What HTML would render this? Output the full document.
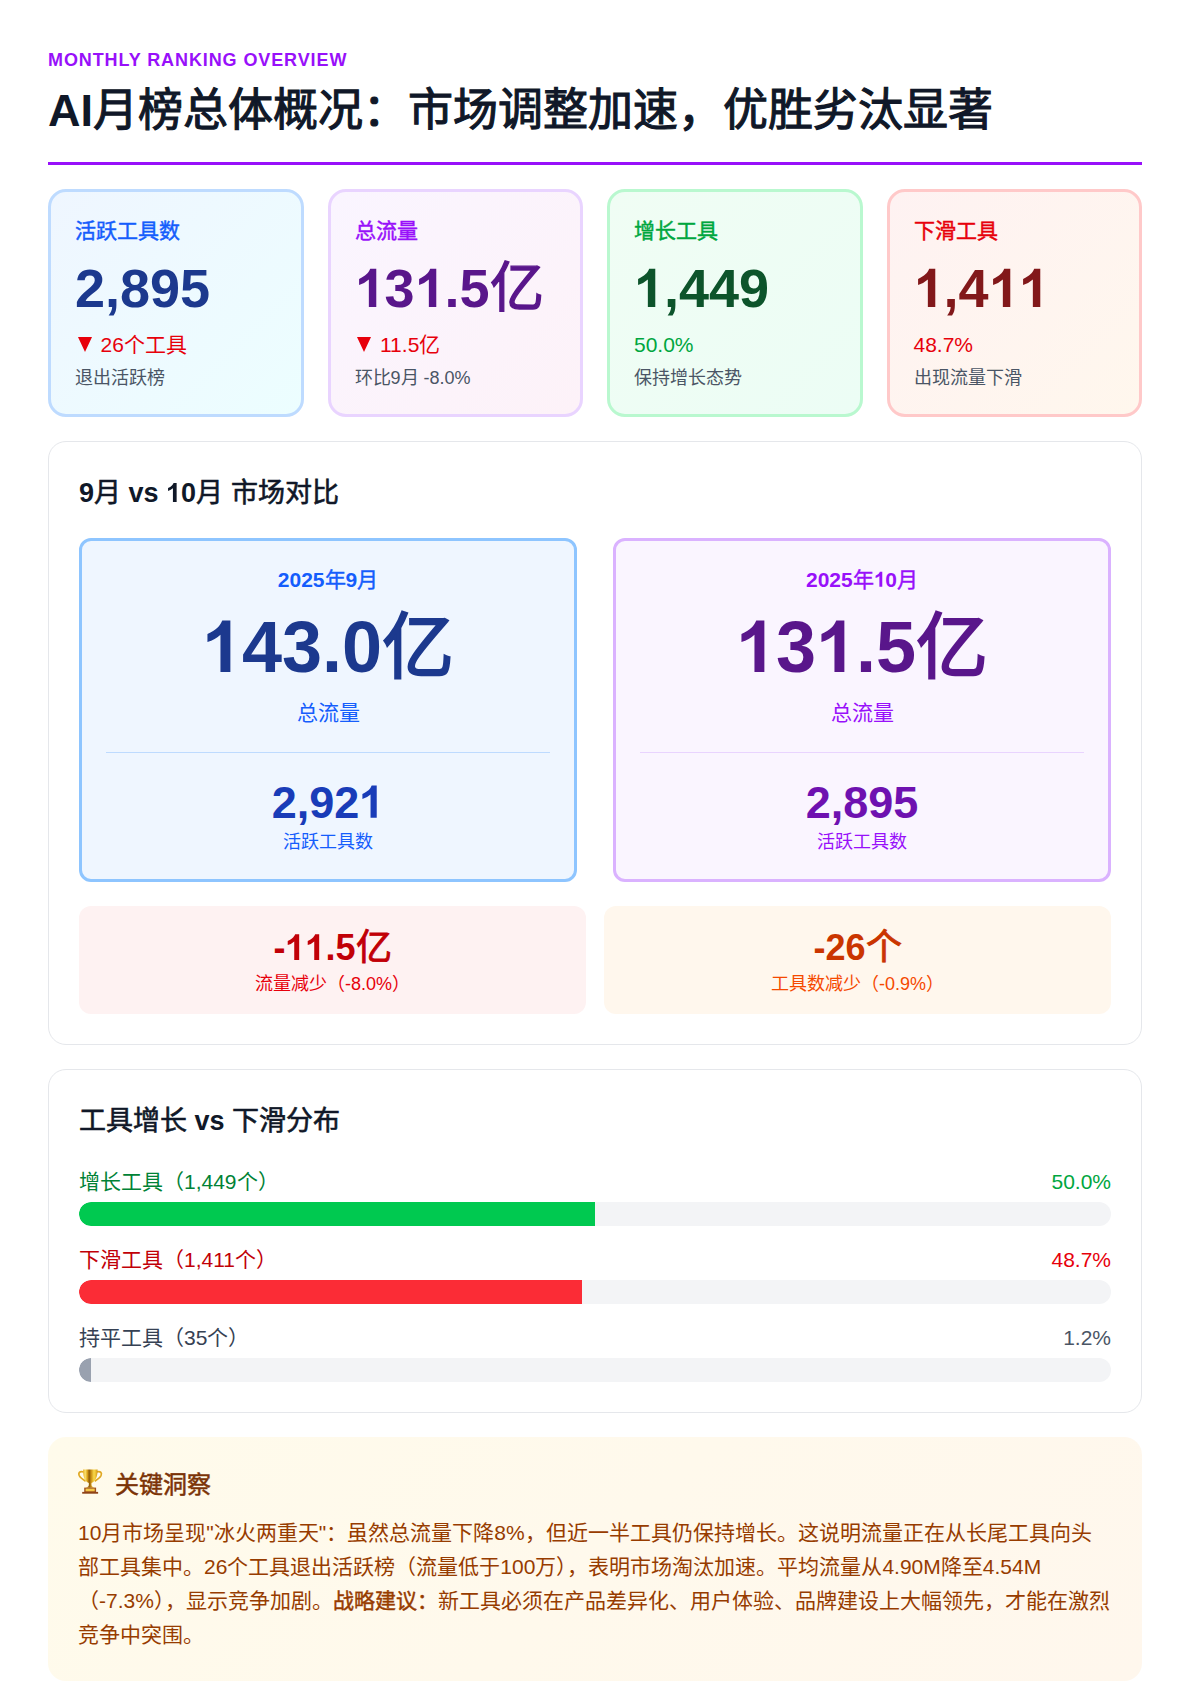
<!DOCTYPE html>
<html lang="zh-CN">
<head>
<meta charset="utf-8">
<style>
html{zoom:1.5;overflow:hidden;text-autospace:no-autospace;}
*{box-sizing:border-box;margin:0;padding:0;}
body{font-family:"Liberation Sans",sans-serif;background:#fff;color:#101828;width:792.667px;height:1122px;padding:32px 31.333px 32px 32px;overflow:hidden;line-height:1.5;}
.label{font-size:12px;line-height:16px;font-weight:700;letter-spacing:0.05em;text-transform:uppercase;color:#9810fa;}
h1{font-size:30px;line-height:36px;font-weight:700;color:#101828;margin-top:8px;}
.header{padding-bottom:16px;border-bottom:2px solid #9810fa;margin-bottom:16px;}
.cards{display:grid;grid-template-columns:repeat(4,1fr);gap:16px;margin-bottom:16px;}
.card{border:2px solid;border-radius:12px;padding:16px;}
.card .t{font-size:14px;line-height:20px;font-weight:700;}
.card .n{font-size:36px;line-height:40px;font-weight:700;margin-top:8px;}
.card .d{font-size:14px;line-height:20px;margin-top:8px;}
.card .s{font-size:12px;line-height:16px;color:#4a5565;margin-top:4px;}
.c1{background:linear-gradient(135deg,#eff6ff,#ecfeff);border-color:#bedbff;}
.c1 .t{color:#155dfc}.c1 .n{color:#1c398e}
.c2{background:linear-gradient(135deg,#faf5ff,#fdf2f8);border-color:#e9d4ff;}
.c2 .t{color:#9810fa}.c2 .n{color:#59168b}
.c3{background:linear-gradient(135deg,#f0fdf4,#ecfdf5);border-color:#b9f8cf;}
.c3 .t{color:#00a63e}.c3 .n{color:#0d542b}.c3 .d{color:#00a63e}
.c4{background:linear-gradient(135deg,#fef2f2,#fff7ed);border-color:#ffc9c9;}
.c4 .t{color:#e7000b}.c4 .n{color:#82181a}.c4 .d{color:#e7000b}
.f14,.f16,.f18,.f24,.f30,.f36,.f48{font-weight:400;-webkit-text-stroke-color:currentColor;}
.f14{-webkit-text-stroke-width:0.3px}.f16{-webkit-text-stroke-width:0.34px}.f18{-webkit-text-stroke-width:0.4px}
.f24{-webkit-text-stroke-width:0.6px}.f30{-webkit-text-stroke-width:0.75px}.f36{-webkit-text-stroke-width:0.9px}.f48{-webkit-text-stroke-width:1.3px}
.one{display:inline;width:0.55615em;height:0.75em;vertical-align:baseline;fill:currentColor;}
.red{color:#e7000b}
.tri{display:inline-block;width:0;height:0;border-left:4.667px solid transparent;border-right:4.667px solid transparent;border-top:10px solid #e7000b;margin-left:1.667px;margin-right:6px;vertical-align:0;}
.sec{border:1px solid #e5e7eb;border-radius:12px;padding:20px;margin-bottom:16px;}
.sec h2{font-size:18px;line-height:28px;font-weight:700;color:#101828;margin-bottom:16px;}
.cmp{display:grid;grid-template-columns:1fr 1fr;gap:24px;}
.box{border:2px solid;border-radius:8px;padding:16px;text-align:center;}
.b1{background:#eff6ff;border-color:#8ec5ff;}
.b2{background:#faf5ff;border-color:#dab2ff;}
.box .m{font-size:14px;line-height:20px;font-weight:700;margin-bottom:10.667px;}
.box .big{font-size:48px;line-height:48px;font-weight:700;margin-bottom:10px;}
.box .l{font-size:14px;line-height:20px;}
.box hr{border:0;border-top:1px solid;margin:16px 0 15.333px;}
.box .n2{font-size:30px;line-height:36px;font-weight:700;}
.box .l2{font-size:12px;line-height:16px;padding-bottom:0.667px;}
.b1 .m{color:#155dfc}.b1 .big{color:#1c398e}.b1 .l{color:#155dfc}.b1 hr{border-color:#bedbff}.b1 .n2{color:#193cb8}
.b2 .m{color:#9810fa}.b2 .big{color:#59168b}.b2 .l{color:#9810fa}.b2 hr{border-color:#e9d4ff}.b2 .n2{color:#6e11b0}
.diff{display:grid;grid-template-columns:1fr 1fr;gap:12px;margin-top:16px;}
.df{border-radius:8px;padding:12px;text-align:center;}
.df .v{font-size:24px;line-height:32px;font-weight:700;}
.df .l{font-size:12px;line-height:16px;}
.d1{background:#fef2f2}.d1 .v{color:#c10007}.d1 .l{color:#e7000b}
.d2{background:#fff7ed}.d2 .v{color:#ca3500}.d2 .l{color:#f54900}
.row{display:flex;justify-content:space-between;font-size:14px;line-height:20px;margin-bottom:4px;position:relative;top:0.667px;}
.track{height:16px;background:#f3f4f6;border-radius:9999px;overflow:hidden;margin-bottom:12px;}
.fill{height:100%;border-radius:9999px 0 0 9999px;}
.ins{background:linear-gradient(135deg,#fffbeb,#fff7ed);border-radius:12px;padding:20px;}
.ins h3{font-size:16px;line-height:24px;font-weight:700;color:#7b3306;margin-bottom:8px;}
.trophy{display:inline-block;vertical-align:top;margin-top:-0.333px;margin-right:7.667px;}
.ins p{font-size:14px;line-height:22.75px;color:#973c00;position:relative;top:0.667px;}
</style>
</head>
<body>
<div class="header">
<div class="label">Monthly Ranking Overview</div>
<h1>AI<span class="f30">月榜总体概况：市场调整加速，优胜劣汰显著</span></h1>
</div>
<div class="cards">
<div class="card c1"><div class="t"><span class="f14">活跃工具数</span></div><div class="n">2,895</div><div class="d red"><span class="tri"></span>26个工具</div><div class="s">退出活跃榜</div></div>
<div class="card c2"><div class="t"><span class="f14">总流量</span></div><div class="n"><svg class="one" viewBox="0 0 556 750"><path d="M256.5,750L394,750L394,33.5L281.5,33.5C241.4,124.4 200.3,157.6 75.7,221L75.7,332.6Q185,301.6 256.5,233Z"/></svg>3<svg class="one" viewBox="0 0 556 750"><path d="M256.5,750L394,750L394,33.5L281.5,33.5C241.4,124.4 200.3,157.6 75.7,221L75.7,332.6Q185,301.6 256.5,233Z"/></svg>.5<span class="f36">亿</span></div><div class="d red"><span class="tri"></span>11.5亿</div><div class="s">环比9月 -8.0%</div></div>
<div class="card c3"><div class="t"><span class="f14">增长工具</span></div><div class="n"><svg class="one" viewBox="0 0 556 750"><path d="M256.5,750L394,750L394,33.5L281.5,33.5C241.4,124.4 200.3,157.6 75.7,221L75.7,332.6Q185,301.6 256.5,233Z"/></svg>,449</div><div class="d">50.0%</div><div class="s">保持增长态势</div></div>
<div class="card c4"><div class="t"><span class="f14">下滑工具</span></div><div class="n"><svg class="one" viewBox="0 0 556 750"><path d="M256.5,750L394,750L394,33.5L281.5,33.5C241.4,124.4 200.3,157.6 75.7,221L75.7,332.6Q185,301.6 256.5,233Z"/></svg>,4<svg class="one" viewBox="0 0 556 750"><path d="M256.5,750L394,750L394,33.5L281.5,33.5C241.4,124.4 200.3,157.6 75.7,221L75.7,332.6Q185,301.6 256.5,233Z"/></svg><svg class="one" viewBox="0 0 556 750"><path d="M256.5,750L394,750L394,33.5L281.5,33.5C241.4,124.4 200.3,157.6 75.7,221L75.7,332.6Q185,301.6 256.5,233Z"/></svg></div><div class="d">48.7%</div><div class="s">出现流量下滑</div></div>
</div>
<div class="sec">
<h2>9<span class="f18">月</span> vs <svg class="one" viewBox="0 0 556 750"><path d="M256.5,750L394,750L394,33.5L281.5,33.5C241.4,124.4 200.3,157.6 75.7,221L75.7,332.6Q185,301.6 256.5,233Z"/></svg>0<span class="f18">月 市场对比</span></h2>
<div class="cmp">
<div class="box b1"><div class="m">2025<span class="f14">年</span>9<span class="f14">月</span></div><div class="big"><svg class="one" viewBox="0 0 556 750"><path d="M256.5,750L394,750L394,33.5L281.5,33.5C241.4,124.4 200.3,157.6 75.7,221L75.7,332.6Q185,301.6 256.5,233Z"/></svg>43.0<span class="f48">亿</span></div><div class="l">总流量</div><hr><div class="n2">2,92<svg class="one" viewBox="0 0 556 750"><path d="M256.5,750L394,750L394,33.5L281.5,33.5C241.4,124.4 200.3,157.6 75.7,221L75.7,332.6Q185,301.6 256.5,233Z"/></svg></div><div class="l l2">活跃工具数</div></div>
<div class="box b2"><div class="m">2025<span class="f14">年</span><svg class="one" viewBox="0 0 556 750"><path d="M256.5,750L394,750L394,33.5L281.5,33.5C241.4,124.4 200.3,157.6 75.7,221L75.7,332.6Q185,301.6 256.5,233Z"/></svg>0<span class="f14">月</span></div><div class="big"><svg class="one" viewBox="0 0 556 750"><path d="M256.5,750L394,750L394,33.5L281.5,33.5C241.4,124.4 200.3,157.6 75.7,221L75.7,332.6Q185,301.6 256.5,233Z"/></svg>3<svg class="one" viewBox="0 0 556 750"><path d="M256.5,750L394,750L394,33.5L281.5,33.5C241.4,124.4 200.3,157.6 75.7,221L75.7,332.6Q185,301.6 256.5,233Z"/></svg>.5<span class="f48">亿</span></div><div class="l">总流量</div><hr><div class="n2">2,895</div><div class="l l2">活跃工具数</div></div>
</div>
<div class="diff">
<div class="df d1"><div class="v">-<svg class="one" viewBox="0 0 556 750"><path d="M256.5,750L394,750L394,33.5L281.5,33.5C241.4,124.4 200.3,157.6 75.7,221L75.7,332.6Q185,301.6 256.5,233Z"/></svg><svg class="one" viewBox="0 0 556 750"><path d="M256.5,750L394,750L394,33.5L281.5,33.5C241.4,124.4 200.3,157.6 75.7,221L75.7,332.6Q185,301.6 256.5,233Z"/></svg>.5<span class="f24">亿</span></div><div class="l">流量减少（-8.0%）</div></div>
<div class="df d2"><div class="v">-26<span class="f24">个</span></div><div class="l">工具数减少（-0.9%）</div></div>
</div>
</div>
<div class="sec">
<h2><span class="f18">工具增长</span> vs <span class="f18">下滑分布</span></h2>
<div class="row" style="color:#008236"><span>增长工具（1,449个）</span><span style="color:#00a63e">50.0%</span></div>
<div class="track"><div class="fill" style="width:50%;background:#00c950"></div></div>
<div class="row" style="color:#c10007"><span>下滑工具（1,411个）</span><span style="color:#e7000b">48.7%</span></div>
<div class="track"><div class="fill" style="width:48.7%;background:#fb2c36"></div></div>
<div class="row" style="color:#364153"><span>持平工具（35个）</span><span style="color:#4a5565">1.2%</span></div>
<div class="track" style="margin-bottom:0"><div class="fill" style="width:1.2%;background:#99a1af"></div></div>
</div>
<div class="ins">
<h3><svg class="trophy" viewBox="0 0 25 28" width="16.667" height="18.667"><defs><linearGradient id="tg" x1="0" x2="1" y1="0" y2="0"><stop offset="0" stop-color="#e9b12a"/><stop offset="0.15" stop-color="#fbe06a"/><stop offset="0.3" stop-color="#d9a01b"/><stop offset="0.42" stop-color="#8c5a0a"/><stop offset="0.55" stop-color="#c98e12"/><stop offset="0.75" stop-color="#f9d94a"/><stop offset="0.9" stop-color="#e9b82a"/><stop offset="1" stop-color="#c8901a"/></linearGradient></defs><path d="M6,5 C1.2,3.6 0.2,6.2 1.3,8.6 C2.5,11 5,12.6 7.6,14.2" fill="none" stroke="#e0a823" stroke-width="1.7"/><path d="M18.3,5 C23.1,3.6 24.1,6.2 23,8.6 C21.8,11 19.3,12.6 16.7,14.2" fill="none" stroke="#e0a823" stroke-width="1.7"/><path d="M5.1,2.6 L19.6,2.6 C19.6,8 18.6,12.6 15.4,14.9 L13.5,16 L13.5,18 C13.5,19.4 15.2,20.3 16.6,20.8 L7.7,20.8 C9.1,20.3 10.8,19.4 10.8,18 L10.8,16 L8.9,14.9 C5.7,12.6 5.1,8 5.1,2.6 Z" fill="url(#tg)"/><rect x="6.2" y="20.6" width="11.9" height="4.6" fill="#a0501e"/><rect x="7.6" y="21.6" width="9.1" height="2.7" fill="#f3c94a"/><rect x="4.2" y="24.9" width="15.9" height="1.8" fill="#8f4318"/></svg><span class="f16">关键洞察</span></h3>
<p>10月市场呈现"冰火两重天"：虽然总流量下降8%，但近一半工具仍保持增长。这说明流量正在从长尾工具向头部工具集中。26个工具退出活跃榜（流量低于100万），表明市场淘汰加速。平均流量从4.90M降至4.54M（-7.3%），显示竞争加剧。<b><span class="f14">战略建议：</span></b>新工具必须在产品差异化、用户体验、品牌建设上大幅领先，才能在激烈竞争中突围。</p>
</div>
</body>
</html>
